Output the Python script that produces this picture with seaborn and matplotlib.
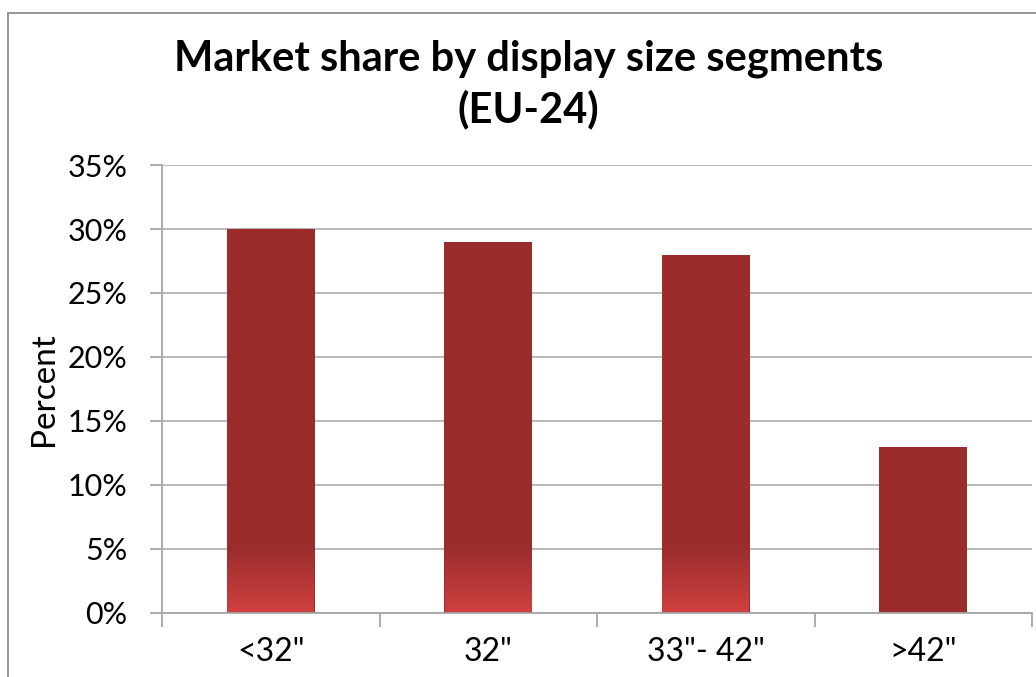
import numpy as np
import pandas as pd
import matplotlib
matplotlib.use('Agg')
import matplotlib.pyplot as plt
import seaborn as sns
from matplotlib.patches import Rectangle
from matplotlib.colors import LinearSegmentedColormap
from matplotlib.ticker import FixedLocator

# Datos del grafico
segmentos = ['<32"', '32"', '33"- 42"', '>42"']
porcentajes = [30, 29, 28, 13]
ticks_y = [0, 5, 10, 15, 20, 25, 30, 35]

data = pd.DataFrame({'segmento': segmentos, 'porcentaje': porcentajes})

sns.set_style('white')
plt.rcParams['font.family'] = ['Lato', 'DejaVu Sans']
plt.rcParams['text.color'] = 'black'
plt.rcParams['axes.labelcolor'] = 'black'
plt.rcParams['xtick.labelcolor'] = 'black'
plt.rcParams['ytick.labelcolor'] = 'black'

fig = plt.figure(figsize=(10.36, 6.77), dpi=100)
ax = fig.add_axes([162 / 1036, 64 / 677, 870 / 1036, 448 / 677])

sns.barplot(data=data, x='segmento', y='porcentaje', color='#9a2c2c',
            saturation=1, width=0.405, linewidth=0, ax=ax)

# degradado en la parte baja de las tres primeras barras
cmap = LinearSegmentedColormap.from_list(
    'rojo', [(0, '#d04040'), (0.75, '#9a2c2c'), (1, '#9a2c2c')])
grad = np.linspace(0, 1, 200).reshape(-1, 1)
for p in ax.patches[:3]:
    x0 = p.get_x() + 0.002
    x1 = p.get_x() + p.get_width() - 0.006
    im = ax.imshow(grad, cmap=cmap, aspect='auto', origin='lower',
                   interpolation='bilinear',
                   extent=(x0, x1, 0, 7), zorder=p.get_zorder() + 0.1)
    im.set_clip_path(p)

ax.set_xlim(-0.5, 3.5)
ax.set_ylim(0, 35)
ax.set_yticks(ticks_y)
ax.set_yticklabels([f'{t}%' for t in ticks_y], fontsize=22)
ax.set_xticklabels(segmentos, fontsize=23)
ax.set_xlabel('')
ax.set_ylabel('Percent', fontsize=24, labelpad=6)

# cuadricula
ax.grid(axis='y', color='#b3b3b3', linewidth=1.3)
ax.set_axisbelow(True)

for s in ['top', 'right']:
    ax.spines[s].set_visible(False)
for s in ['left', 'bottom']:
    ax.spines[s].set_color('#a6a6a6')
    ax.spines[s].set_linewidth(1.3)

ax.tick_params(axis='y', left=True, length=9, color='#a6a6a6', width=1.3, pad=16)
ax.tick_params(axis='x', bottom=False, pad=14)
ax.xaxis.set_minor_locator(FixedLocator([-0.5, 0.5, 1.5, 2.5, 3.5]))
ax.tick_params(axis='x', which='minor', bottom=True, length=10, color='#a6a6a6', width=1.3)

# titulo
fig.text(0.51, 0.875, 'Market share by display size segments\n(EU-24)',
         ha='center', va='center', fontsize=30, fontweight='bold',
         linespacing=1.35)

# marco exterior
fig.patches.append(Rectangle((8 / 1036, -0.1), 1.2, (677 - 13) / 677 + 0.1,
                             transform=fig.transFigure, fill=False,
                             edgecolor='#8c8c8c', linewidth=1.3))

fig.savefig('out.png', dpi=100)
